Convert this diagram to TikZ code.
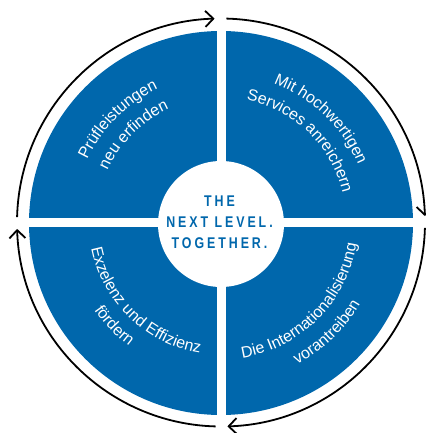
\documentclass[tikz,border=0pt]{standalone}
\usepackage{fontspec}
\setmainfont{Liberation Sans}
\newfontfamily\qfont{Liberation Sans}
\newfontfamily\cfont{Liberation Sans}[FakeStretch=0.8,LetterSpace=19,BoldFont={Liberation Sans Bold}]
\usetikzlibrary{decorations.text,arrows.meta}
\definecolor{tblue}{RGB}{0,103,172}
\tikzset{
  ring/.style={line width=1.8pt,-{Straight Barb[length=8pt,width=16pt]}},
  qtext/.style={decorate,decoration={text along path,text align=center,
      text={|\qfont\fontsize{16}{18}\selectfont\color{white}|#1}}},
  slogan/.style={align=center,text=tblue,font=\cfont\bfseries\fontsize{15.5}{21}\selectfont,inner sep=0pt}
}
\begin{document}
\begin{tikzpicture}[x=1pt,y=1pt]
\useasboundingbox (-221,-210.5) rectangle (204,222.5);
% quadrants
\fill[tblue] (0,-0.5) circle[radius=192];
\fill[white] (-4,-200) rectangle (4.5,200);
\fill[white] (-200,-4.5) rectangle (200,4.5);
\fill[white] (0,-1.5) circle[radius=63];
% outer cycle arrows
\foreach \a in {180,90,0,-90}
  \draw[ring] ({\a-1.5}:204) arc[start angle=\a-1.5, end angle=\a-88.2, radius=204];
% centre
\node[slogan] (slogan) at (-1.5,0) {THE\\NEXT LEVEL.\\TOGETHER.};
% quadrant texts
\path[qtext={Prüfleistungen}] (185:147.8) arc[start angle=185,end angle=85,radius=147.8];
\path[qtext={neu erfinden}] (185:124.8) arc[start angle=185,end angle=85,radius=124.8];
\path[qtext={Mit hochwertigen}] (96:148.8) arc[start angle=96,end angle=-4,radius=148.8];
\path[qtext={Services anreichern}] (96:125.3) arc[start angle=96,end angle=-4,radius=125.3];
\path[qtext={Exzelenz und Effizienz}] (176:132.2) arc[start angle=176,end angle=276,radius=132.2];
\path[qtext={fördern}] (174:154.2) arc[start angle=174,end angle=274,radius=154.2];
\path[qtext={Die Internationalisierung}] (265:137.2) arc[start angle=265,end angle=365,radius=137.2];
\path[qtext={vorantreiben}] (264:161.2) arc[start angle=264,end angle=364,radius=161.2];
\end{tikzpicture}
\end{document}
